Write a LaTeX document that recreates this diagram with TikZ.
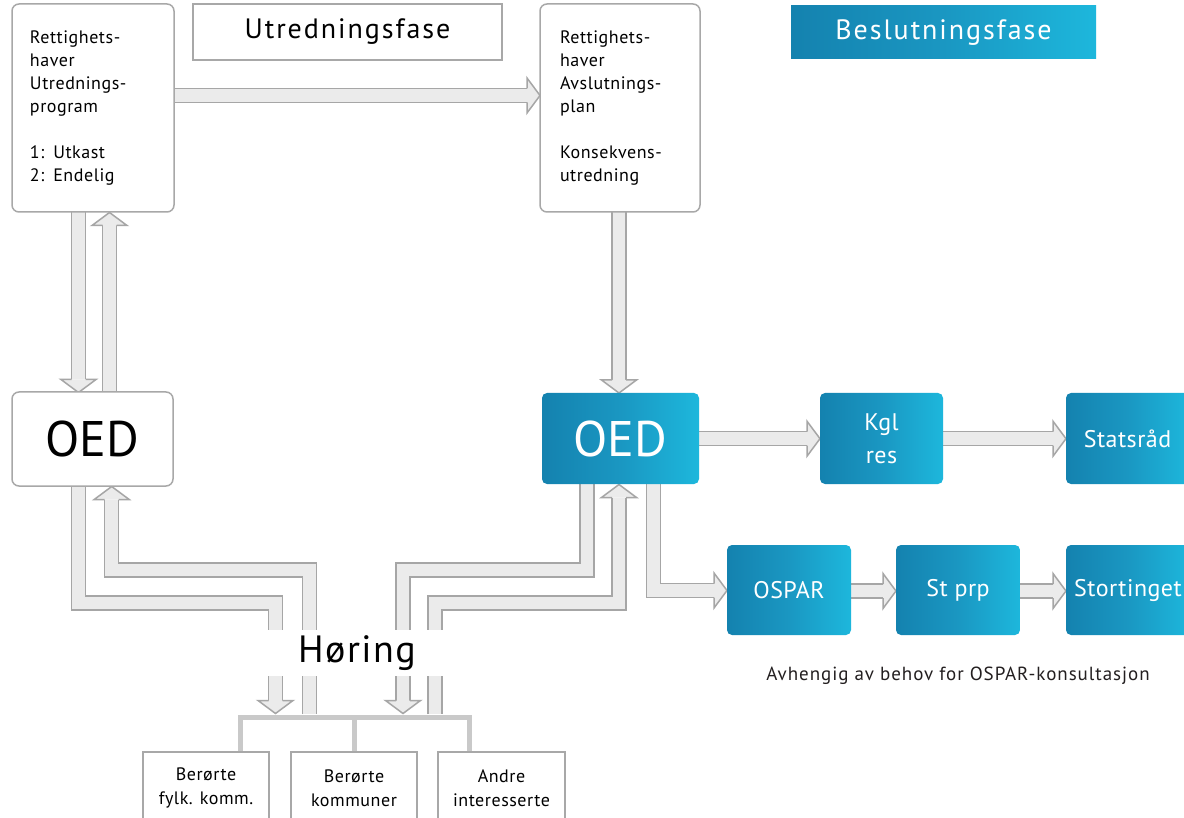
\documentclass[tikz,border=0pt]{standalone}
\usepackage{fontspec}
\setmainfont{PT Sans}
\definecolor{arrfill}{HTML}{EBEBEB}
\definecolor{arrline}{HTML}{A6A6A6}
\definecolor{boxline}{HTML}{A8A8A8}
\definecolor{brk}{HTML}{C9C9C9}
\definecolor{blueL}{HTML}{1482AF}
\definecolor{blueM}{HTML}{1A97C2}
\definecolor{blueR}{HTML}{1DB7DC}
\definecolor{notecol}{HTML}{231F20}
\tikzset{
 gbox/.style={draw=boxline, line width=1.5pt, fill=white, rounded corners=7pt, inner sep=0pt},
 sbox/.style={draw=boxline, line width=1.5pt, fill=white, inner sep=0pt},
 bbox/.style={rounded corners=5pt, left color=blueL, right color=blueR, middle color=blueM, text=white, inner sep=0pt},
 blkshaft/.style={draw=arrline, line width=1.5pt, double=arrfill, double distance=12.5pt, line join=miter},
 bracketline/.style={draw=brk, line width=5pt, line join=miter},
 bodyfont/.style={font=\fontsize{18}{23}\selectfont\addfontfeature{LetterSpace=3}},
 titlefont/.style={font=\fontsize{28}{30}\selectfont\addfontfeature{LetterSpace=7}},
 bigfont/.style={font=\fontsize{50}{52}\selectfont},
 bluefont/.style={font=\fontsize{24}{33}\selectfont\addfontfeature{LetterSpace=2}},
 smallfont/.style={font=\fontsize{18}{24}\selectfont\addfontfeature{LetterSpace=3}},
 blkhead/.pic={
   \fill[arrfill] (0,0) -- (-13,17.5) -- (-13,-17.5) -- cycle;
   \draw[arrline, line width=1.5pt, line join=miter] (-13,7) -- (-13,17.5) -- (0,0) -- (-13,-17.5) -- (-13,-7);
 },
}
\begin{document}
\begin{tikzpicture}[x=1pt,y=-1pt]
\clip (0,0) rectangle (1184,818);
\fill[white] (0,0) rectangle (1184,818);

% bracket
\coordinate (brL) at (240,752);
\coordinate (brLt) at (240,717);
\coordinate (brR) at (469,752);
\coordinate (brRt) at (469,717);
\coordinate (brM) at (354,752);
\coordinate (brMt) at (354,717);
\draw[bracketline] (brL) -- (brLt) -- (brRt) -- (brR);
\draw[bracketline] (brMt) -- (brM);

% shafts and heads
\draw[blkshaft] (174,95.5) -- (527.5,95.5);
\pic at (540,95.5) {blkhead};

\draw[blkshaft] (78.5,212) -- (78.5,379.5);
\pic[rotate=-90] at (78.5,392.5) {blkhead};

\draw[blkshaft] (109.5,392) -- (109.5,225.5);
\pic[rotate=90] at (109.5,212.5) {blkhead};

\draw[blkshaft] (78.7,486) -- (78.7,603) -- (275.5,603) -- (275.5,700.5);
\pic[rotate=-90] at (275.5,713.5) {blkhead};

\draw[blkshaft] (309.5,714) -- (309.5,570) -- (111.7,570) -- (111.7,499.5);
\pic[rotate=90] at (111.7,486.5) {blkhead};

\draw[blkshaft] (587,484) -- (587,570) -- (403,570) -- (403,700.5);
\pic[rotate=-90] at (403,713.5) {blkhead};

\draw[blkshaft] (435,714) -- (435,603) -- (619,603) -- (619,497.5);
\pic[rotate=90] at (619,484.5) {blkhead};

\draw[blkshaft] (619,212) -- (619,380);
\pic[rotate=-90] at (619,393) {blkhead};

\draw[blkshaft] (653.5,484) -- (653.5,590.5) -- (714,590.5);
\pic at (727,590.5) {blkhead};

\draw[blkshaft] (699,438.7) -- (807,438.7);
\pic at (820,438.7) {blkhead};

\draw[blkshaft] (943,438.7) -- (1053,438.7);
\pic at (1066,438.7) {blkhead};

\draw[blkshaft] (851,591) -- (883,591);
\pic at (896,591) {blkhead};

\draw[blkshaft] (1020,591) -- (1053,591);
\pic at (1066,591) {blkhead};

% boxes
\node[gbox, minimum width=162pt, minimum height=208pt, text width=126pt, align=left, bodyfont] (tl) at (93,108)
  {Rettighets-\\haver\\Utrednings-\\program\\[23pt]1: Utkast\\2: Endelig};
\node[gbox, minimum width=160pt, minimum height=208pt, text width=120pt, align=left, bodyfont] (tm) at (620,108)
  {Rettighets-\\haver\\Avslutnings-\\plan\\[23pt]Konsekvens-\\utredning};
\node[sbox, minimum width=309pt, minimum height=56pt, titlefont] (ut) at (347.5,32) {Utredningsfase};
\node[bbox, rounded corners=0pt, minimum width=305pt, minimum height=53pt, titlefont] (bes) at (943.5,32.5) {Beslutningsfase};

\node[gbox, minimum width=161pt, minimum height=94pt, bigfont] (oedL) at (92.5,439) {OED};
\node[bbox, minimum width=157pt, minimum height=91pt, bigfont] (oedR) at (620.5,438.5) {OED};
\node[bbox, minimum width=123pt, minimum height=91pt, align=center, bluefont] (kgl) at (881.5,438.5) {Kgl\\res};
\node[bbox, minimum width=123pt, minimum height=91pt, bluefont] (stats) at (1127.5,438.5) {Statsråd};
\node[bbox, minimum width=124pt, minimum height=90pt, bluefont] (ospar) at (789,590) {OSPAR};
\node[bbox, minimum width=124pt, minimum height=90pt, bluefont] (stprp) at (958,590) {St prp};
\node[bbox, minimum width=124pt, minimum height=90pt, bluefont] (storting) at (1128,590) {Stortinget};
\node[text=notecol, font=\fontsize{19}{21}\selectfont\addfontfeature{LetterSpace=5}] (note) at (958,676) {Avhengig av behov for OSPAR-konsultasjon};

\node[fill=white, minimum width=190pt, minimum height=46pt, font=\fontsize{38}{40}\selectfont\addfontfeature{LetterSpace=4}] (hor) at (357,653) {Høring};

\node[sbox, minimum width=126pt, minimum height=72pt, align=center, smallfont] (b1) at (206,788) {Berørte\\fylk. komm.};
\node[sbox, minimum width=126pt, minimum height=72pt, align=center, smallfont] (b2) at (354,788) {Berørte\\kommuner};
\node[sbox, minimum width=127pt, minimum height=72pt, align=center, smallfont] (b3) at (501.5,788) {Andre\\interesserte};
\end{tikzpicture}
\end{document}
